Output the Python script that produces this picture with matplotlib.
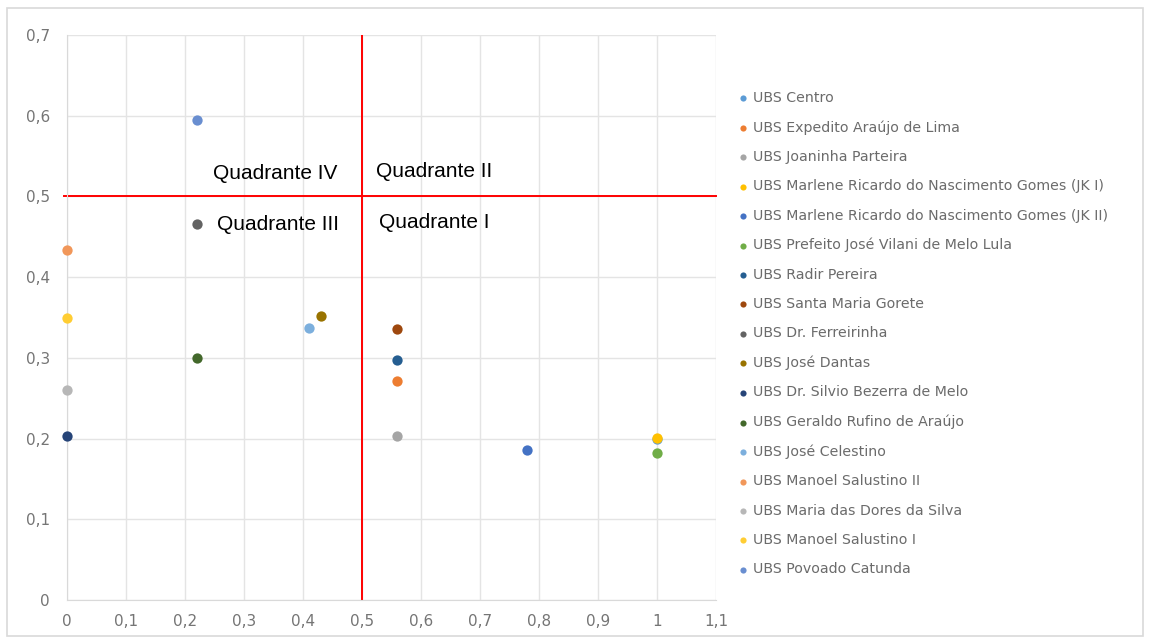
import matplotlib.pyplot as plt
from matplotlib.patches import Rectangle
from matplotlib.ticker import FuncFormatter, MultipleLocator

# Unidades e coordenadas (x, y) de cada uma
unidades = [
    "UBS Centro",
    "UBS Expedito Araújo de Lima",
    "UBS Joaninha Parteira",
    "UBS Marlene Ricardo do Nascimento Gomes (JK I)",
    "UBS Marlene Ricardo do Nascimento Gomes (JK II)",
    "UBS Prefeito José Vilani de Melo Lula",
    "UBS Radir Pereira",
    "UBS Santa Maria Gorete",
    "UBS Dr. Ferreirinha",
    "UBS José Dantas",
    "UBS Dr. Silvio Bezerra de Melo",
    "UBS Geraldo Rufino de Araújo",
    "UBS José Celestino",
    "UBS Manoel Salustino II",
    "UBS Maria das Dores da Silva",
    "UBS Manoel Salustino I",
    "UBS Povoado Catunda",
]
x_vals = [1.0, 0.56, 0.56, 1.0, 0.78, 1.0, 0.56, 0.56, 0.22, 0.43, 0.0, 0.22, 0.41, 0.0, 0.0, 0.0, 0.22]
y_vals = [0.2, 0.271, 0.203, 0.201, 0.186, 0.182, 0.297, 0.336, 0.466, 0.352, 0.203, 0.300, 0.337, 0.434, 0.260, 0.349, 0.594]

cores = ["#5B9BD5", "#ED7D31", "#A5A5A5", "#FFC000", "#4472C4", "#70AD47",
         "#255E91", "#9E480E", "#636363", "#997300", "#264478", "#43682B",
         "#7CAFDD", "#F1975A", "#B7B7B7", "#FFCD33", "#698ED0"]

quadrantes = ["Quadrante IV", "Quadrante II", "Quadrante III", "Quadrante I"]

plt.rcParams['font.family'] = ['DejaVu Sans']

fig = plt.figure(figsize=(11.5, 6.44), dpi=100)
fig.patches.append(Rectangle((0.006, 0.012), 0.988, 0.975, transform=fig.transFigure,
                             fill=False, edgecolor="#D9D9D9", linewidth=1.2))

ax = fig.add_axes([0.058, 0.068, 0.565, 0.878])

for nome, xv, yv, c in zip(unidades, x_vals, y_vals, cores):
    ax.scatter([xv], [yv], s=55, color=c, label=nome, zorder=3, linewidths=0, clip_on=False)

# linhas dos quadrantes
ax.plot([0.5, 0.5], [0, 0.7], color="red", lw=1.4, zorder=2)
ax.plot([-0.005, 1.1], [0.5, 0.5], color="red", lw=1.4, zorder=2, clip_on=False)

fonte_q = dict(fontsize=15, family="Liberation Sans", va="center", ha="left")
ax.text(0.248, 0.528, quadrantes[0], **fonte_q)
ax.text(0.524, 0.531, quadrantes[1], **fonte_q)
ax.text(0.254, 0.465, quadrantes[2], **fonte_q)
ax.text(0.528, 0.467, quadrantes[3], **fonte_q)

ax.set_xlim(0, 1.1)
ax.set_ylim(0, 0.7)
ax.xaxis.set_major_locator(MultipleLocator(0.1))
ax.yaxis.set_major_locator(MultipleLocator(0.1))
virgula = FuncFormatter(lambda v, p: ("%g" % round(v, 2)).replace(".", ","))
ax.xaxis.set_major_formatter(virgula)
ax.yaxis.set_major_formatter(virgula)
ax.grid(True, color="#E4E4E4", linewidth=1, zorder=0)
ax.set_axisbelow(True)
for lado in ["top", "right"]:
    ax.spines[lado].set_visible(False)
for lado in ["left", "bottom"]:
    ax.spines[lado].set_color("#D9D9D9")
ax.tick_params(length=0, labelsize=11, colors="#757575")
ax.tick_params(axis="y", pad=12)
ax.tick_params(axis="x", pad=10)

ax.legend(loc="center left", bbox_to_anchor=(0.629, 0.482), bbox_transform=fig.transFigure,
          frameon=False, fontsize=10.2, labelcolor="#6B6B6B", handletextpad=-0.3,
          labelspacing=1.08, markerscale=0.6, borderaxespad=0)

fig.savefig("out.png", dpi=100)
